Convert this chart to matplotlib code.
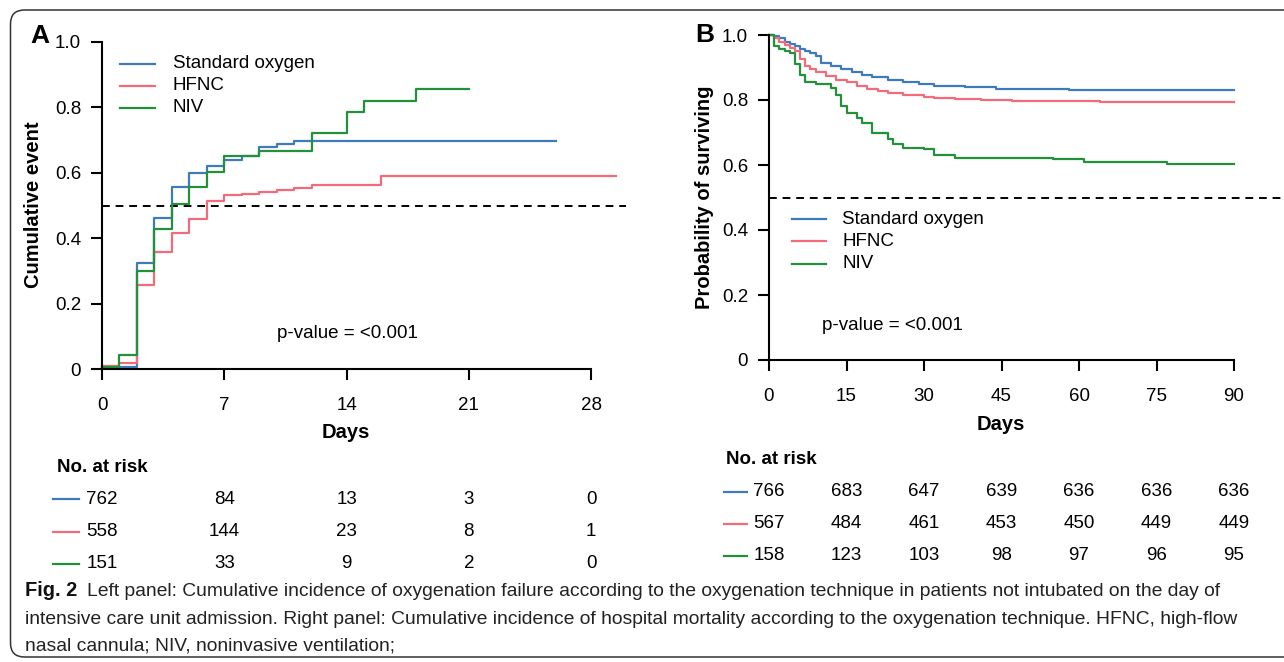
import numpy as np
import matplotlib
matplotlib.use("Agg")
import matplotlib.pyplot as plt
from matplotlib import font_manager, transforms
from matplotlib.patches import FancyBboxPatch
from matplotlib.lines import Line2D

plt.rcParams['font.family'] = ['Liberation Sans', 'DejaVu Sans']

# Panel A: cumulative event (oxygenation failure), step times in days
labels = ['Standard oxygen', 'HFNC', 'NIV']
colors = ['#3f7bbb', '#f26b7b', '#23903a']

a_std_t = [0, 2, 3, 4, 5, 6, 7, 8, 9, 10, 11, 26]
a_std_v = [0.005, 0.323, 0.461, 0.558, 0.599, 0.620, 0.638, 0.650, 0.679, 0.687, 0.698, 0.698]
a_hfnc_t = [0, 1, 2, 3, 4, 5, 6, 7, 8, 9, 10, 11, 12, 16, 29.4]
a_hfnc_v = [0.010, 0.017, 0.257, 0.359, 0.415, 0.459, 0.513, 0.532, 0.536, 0.541, 0.546,
            0.553, 0.563, 0.589, 0.589]
a_niv_t = [0, 1, 2, 3, 4, 5, 6, 7, 9, 12, 14, 15, 18, 21]
a_niv_v = [0.005, 0.043, 0.299, 0.429, 0.506, 0.556, 0.601, 0.650, 0.667, 0.722, 0.785,
           0.820, 0.857, 0.857]

# Panel B: probability of surviving
b_std_t = [0, 1, 2, 3, 4, 5, 6, 7, 8, 9, 10, 12, 14, 16, 18, 20, 23, 26, 29, 32, 38, 44, 58, 90]
b_std_v = [1.0, 0.996, 0.990, 0.980, 0.972, 0.965, 0.958, 0.952, 0.945, 0.935, 0.915, 0.905,
           0.895, 0.885, 0.878, 0.870, 0.862, 0.855, 0.848, 0.842, 0.840, 0.835, 0.831, 0.831]
b_hfnc_t = [0, 1, 2, 3, 4, 5, 6, 7, 8, 9, 11, 13, 15, 17, 19, 21, 23, 26, 30, 32, 36, 41,
            47, 64, 90]
b_hfnc_v = [1.0, 0.990, 0.980, 0.970, 0.960, 0.950, 0.925, 0.905, 0.895, 0.885, 0.875,
            0.862, 0.855, 0.842, 0.835, 0.828, 0.822, 0.815, 0.810, 0.806, 0.803, 0.800,
            0.796, 0.793, 0.793]
b_niv_t = [0, 1, 2, 3, 4, 5, 6, 7, 9, 12, 13, 14, 15, 17, 18, 20, 23, 24, 26, 30, 32, 36,
           55, 61, 77, 90]
b_niv_v = [1.0, 0.965, 0.958, 0.952, 0.945, 0.910, 0.878, 0.855, 0.850, 0.838, 0.815, 0.782,
           0.760, 0.745, 0.730, 0.700, 0.680, 0.664, 0.653, 0.648, 0.632, 0.622, 0.617,
           0.609, 0.602, 0.602]

# numbers at risk
a_risk_days = [0, 7, 14, 21, 28]
a_risk = [[762, 84, 13, 3, 0], [558, 144, 23, 8, 1], [151, 33, 9, 2, 0]]
b_risk_days = [0, 15, 30, 45, 60, 75, 90]
b_risk = [[766, 683, 647, 639, 636, 636, 636],
          [567, 484, 461, 453, 450, 449, 449],
          [158, 123, 103, 98, 97, 96, 95]]

caption = [
    "Left panel: Cumulative incidence of oxygenation failure according to the oxygenation "
    "technique in patients not intubated on the day of",
    "intensive care unit admission. Right panel: Cumulative incidence of hospital mortality "
    "according to the oxygenation technique. HFNC, high-flow",
    "nasal cannula; NIV, noninvasive ventilation;",
]

W, H = 1284, 662
fig = plt.figure(figsize=(W / 100, H / 100), dpi=100)


def fx(px):
    return px / W


def fy(py):
    return 1 - py / H


FS = 13.5
LW = 1.6


def style_axis(ax, xmax, xt):
    for s in ['top', 'right']:
        ax.spines[s].set_visible(False)
    ax.spines['left'].set_bounds(0, 1)
    ax.spines['bottom'].set_bounds(0, xt[-1])
    for s in ['left', 'bottom']:
        ax.spines[s].set_linewidth(1.5)
    ax.set_xlim(0, xmax)
    ax.set_ylim(0, 1)
    ax.set_xticks(xt)
    ax.set_xticklabels([str(v) for v in xt])
    ax.set_yticks([0, 0.2, 0.4, 0.6, 0.8, 1.0])
    ax.set_yticklabels(['0', '0.2', '0.4', '0.6', '0.8', '1.0'])
    ax.tick_params(direction='out', length=8, width=1.5, labelsize=FS)
    ax.tick_params(axis='x', pad=12)
    ax.tick_params(axis='y', pad=7)
    ax.axhline(0.5, color='black', ls=(0, (4, 3)), lw=1.4)


# ---- Panel A ----
axA = fig.add_axes([fx(102), fy(369), fx(626) - fx(102), fy(42) - fy(369)])
style_axis(axA, 30.0, a_risk_days)
for t, v, c in zip([a_std_t, a_hfnc_t, a_niv_t], [a_std_v, a_hfnc_v, a_niv_v], colors):
    axA.step(t, v, where='post', color=c, lw=LW, clip_on=False)

# ---- Panel B ----
axB = fig.add_axes([fx(769), fy(360), fx(1284) - fx(769), fy(35) - fy(360)])
style_axis(axB, 515 / (465 / 90), b_risk_days)
for t, v, c in zip([b_std_t, b_hfnc_t, b_niv_t], [b_std_v, b_hfnc_v, b_niv_v], colors):
    axB.step(t, v, where='post', color=c, lw=LW, clip_on=False)

# panel letters and axis titles
fig.text(fx(40), fy(36), 'A', fontsize=19, fontweight='bold', ha='center', va='center')
fig.text(fx(705), fy(35), 'B', fontsize=19, fontweight='bold', ha='center', va='center')
fig.text(fx(34), fy(205), 'Cumulative event', fontsize=14.5, fontweight='bold',
         rotation=90, ha='center', va='center')
fig.text(fx(705), fy(197), 'Probability of surviving', fontsize=14.5, fontweight='bold',
         rotation=90, ha='center', va='center')
fig.text(fx(346), fy(433), 'Days', fontsize=14.5, fontweight='bold', ha='center', va='center')
fig.text(fx(1001), fy(424), 'Days', fontsize=14.5, fontweight='bold', ha='center', va='center')

# legends
for i, (lab, c) in enumerate(zip(labels, colors)):
    y = fy(64 + 22 * i)
    fig.add_artist(Line2D([fx(120), fx(155)], [y, y], color=c, lw=LW))
    fig.text(fx(173), y, lab, fontsize=FS, va='center')
    y = fy(219 + 22.5 * i)
    fig.add_artist(Line2D([fx(792), fx(826)], [y, y], color=c, lw=LW))
    fig.text(fx(842), y, lab, fontsize=FS, va='center')

fig.text(fx(277), fy(334), 'p-value = <0.001', fontsize=FS, va='center')
fig.text(fx(822), fy(326), 'p-value = <0.001', fontsize=FS, va='center')

# risk tables
fig.text(fx(57), fy(467), 'No. at risk', fontsize=FS, fontweight='bold', va='center')
fig.text(fx(726), fy(459), 'No. at risk', fontsize=FS, fontweight='bold', va='center')
trA = transforms.blended_transform_factory(axA.transData, fig.transFigure)
trB = transforms.blended_transform_factory(axB.transData, fig.transFigure)
for i, c in enumerate(colors):
    y = fy(499 + 32.5 * i)
    fig.add_artist(Line2D([fx(53), fx(79)], [y, y], color=c, lw=LW))
    for d, n in zip(a_risk_days, a_risk[i]):
        fig.text(d, y, str(n), transform=trA, fontsize=FS, ha='center', va='center')
    y = fy(492 + 32 * i)
    fig.add_artist(Line2D([fx(724), fx(747)], [y, y], color=c, lw=LW))
    for d, n in zip(b_risk_days, b_risk[i]):
        fig.text(d, y, str(n), transform=trB, fontsize=FS, ha='center', va='center')

# caption
try:
    font_manager.findfont('Liberation Sans Narrow', fallback_to_default=False)
    cap_font, cap_fs = 'Liberation Sans Narrow', 14.5
except Exception:
    cap_font, cap_fs = 'Liberation Sans', 13.9
renderer = fig.canvas.get_renderer()
t0 = fig.text(fx(25), fy(591), 'Fig. 2', fontsize=cap_fs + 0.5, fontweight='bold',
              family=cap_font, va='center', color='#111111')
x1 = t0.get_window_extent(renderer).x1 + 10
fig.text(x1 / W, fy(591), caption[0], fontsize=cap_fs, family=cap_font, va='center',
         color='#222222')
fig.text(fx(25), fy(619), caption[1], fontsize=cap_fs, family=cap_font, va='center',
         color='#222222')
fig.text(fx(25), fy(646), caption[2], fontsize=cap_fs, family=cap_font, va='center',
         color='#222222')

# rounded frame around the figure
frame = FancyBboxPatch((10.5, H - 657), 1320, 647, boxstyle='round,pad=0,rounding_size=14',
                       transform=transforms.IdentityTransform(), fill=False,
                       edgecolor='#333333', lw=1.1)
fig.add_artist(frame)

fig.savefig('out.png', dpi=100)
